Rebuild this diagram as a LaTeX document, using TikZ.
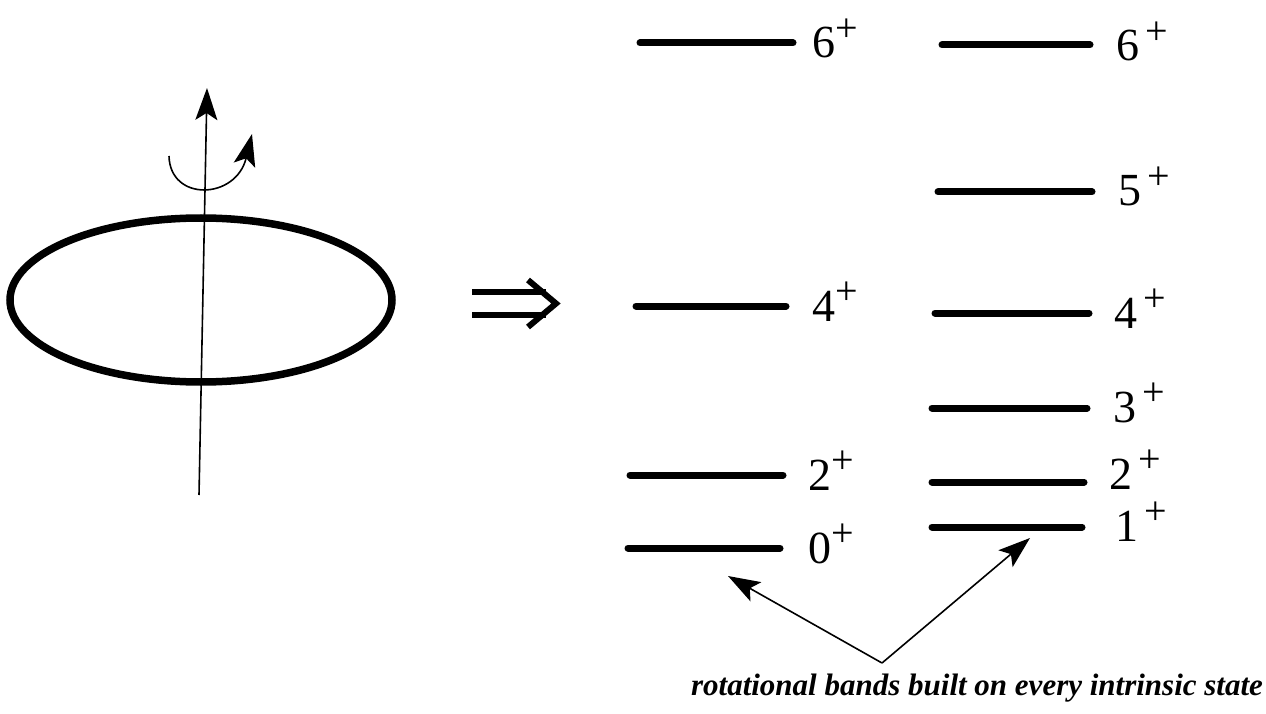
\documentclass[tikz,border=0pt]{standalone}
\usepackage{fontspec}
\setmainfont{Liberation Serif}
\usetikzlibrary{arrows.meta}
\newcommand\jp[1]{#1\raisebox{0.36em}{\fontsize{40}{40}\selectfont +}}
\newcommand\jq[1]{#1\hspace{0.14em}\raisebox{0.36em}{\fontsize{40}{40}\selectfont +}}
\begin{document}
\begin{tikzpicture}[x=1pt,y=-1pt,
  level/.style={line width=7pt,line cap=round},
  lab/.style={anchor=base west,inner sep=0pt,font=\fontsize{46}{52}\selectfont},
  thinline/.style={line width=1.6pt},
  bigtip/.style={-{Stealth[length=32pt,width=22pt,inset=7pt]}}]
\useasboundingbox (0,0) rectangle (1266,714);
% deformed nucleus
\draw[line width=7.5pt] (201,300) ellipse [x radius=191, y radius=82];
\coordinate (axbot) at (199,495);
\coordinate (axtop) at (207,88);
\draw[thinline,bigtip] (axbot) -- (axtop);
\coordinate (rotS) at (169,156);
\coordinate (rotE) at (252,134);
\draw[thinline,-{Stealth[length=32pt,width=22pt,inset=7pt]}] (rotS) .. controls (170,202) and (236,200) .. (rotE);
% implies arrow
\coordinate (ia) at (472,292);
\coordinate (ib) at (546,292);
\coordinate (ic) at (472,315);
\coordinate (id) at (546,315);
\coordinate (ie) at (528,280);
\coordinate (if) at (556,303.5);
\coordinate (ig) at (528,327);
\draw[line width=6pt] (ia) -- (ib) (ic) -- (id);
\draw[line width=6pt,line join=miter] (ie) -- (if) -- (ig);
% left band
\draw[level] (640,43) -- (793,43);
\node[lab] (l6) at (812,58) {\jp{6}};
\draw[level] (636,306) -- (786,306);
\node[lab] (l4) at (812,321) {\jp{4}};
\draw[level] (630,475) -- (783,475);
\node[lab] (l2) at (808,490) {\jp{2}};
\draw[level] (628,548) -- (780,548);
\node[lab] (l0) at (808,563) {\jp{0}};
% right band
\draw[level] (942,45) -- (1090,45);
\node[lab] (r6) at (1116,61) {\jq{6}};
\draw[level] (938,192) -- (1092,192);
\node[lab] (r5) at (1118,206) {\jq{5}};
\draw[level] (935,313) -- (1089,313);
\node[lab] (r4) at (1114,328) {\jq{4}};
\draw[level] (932,408) -- (1087,408);
\node[lab] (r3) at (1113,422) {\jq{3}};
\draw[level] (932,482) -- (1084,482);
\node[lab] (r2) at (1109,489) {\jq{2}};
\draw[level] (932,527) -- (1082,527);
\node[lab] (r1) at (1115,541) {\jq{1}};
% caption and arrows
\node[inner sep=0pt,font=\fontsize{31}{36}\selectfont\bfseries\itshape] (cap) at (977,688) {rotational bands built on every intrinsic state};
\coordinate (apex) at (882,663);
\coordinate (t0) at (728,576);
\coordinate (t1) at (1030,538);
\draw[thinline,bigtip] (apex) -- (t0);
\draw[thinline,bigtip] (apex) -- (t1);
\end{tikzpicture}
\end{document}
